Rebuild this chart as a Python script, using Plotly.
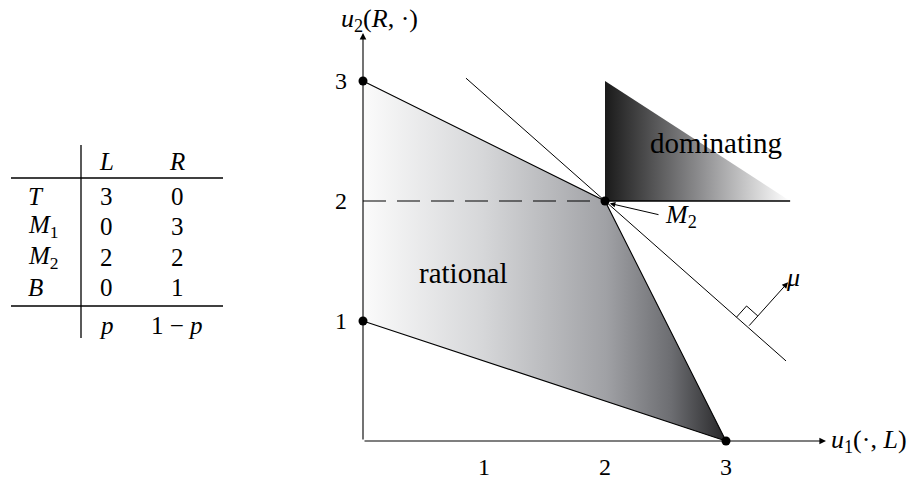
import numpy as np
import plotly.graph_objects as go

# ---- payoff table -------------------------------------------------------
strategies = ["T", "M1", "M2", "B"]
strategy_labels = ["<i>T</i>", "<i>M</i><sub>1</sub>", "<i>M</i><sub>2</sub>", "<i>B</i>"]
payoff_L = [3, 0, 2, 0]
payoff_R = [0, 3, 2, 1]
column_labels = ["<i>L</i>", "<i>R</i>"]
belief_labels = ["<i>p</i>", "1 − <i>p</i>"]

# ---- geometry of the payoff plane --------------------------------------
axis_ticks = [1, 2, 3]
rational_order = ["B", "M1", "M2", "T"]          # corners of the shaded region
dominating_u1 = [2, 2, 3.53]
dominating_u2 = [2, 3, 2]
support_slope = -0.891                           # line through M2, normal = mu
support_u1 = [0.851, 3.496]
foot_u1 = 3.18                                   # where mu starts on that line

W, H = 921, 479
X0, Y0, SX, SY = 363, 441, 121.0, 120.0          # origin pixel and unit sizes


def px_x(px):
    return (px - X0) / SX


def px_y(py):
    return (Y0 - py) / SY


pts = {s: (l, r) for s, l, r in zip(strategies, payoff_L, payoff_R)}
rat_u1 = [pts[s][0] for s in rational_order]
rat_u2 = [pts[s][1] for s in rational_order]
m2 = pts["M2"]

FONT = "Liberation Serif, DejaVu Serif, serif"
fig = go.Figure()

# rational region with horizontal gradient
fig.add_trace(go.Scatter(
    x=rat_u1 + [rat_u1[0]], y=rat_u2 + [rat_u2[0]], mode="lines",
    fill="toself", line=dict(width=0),
    fillgradient=dict(type="horizontal", start=0, stop=3,
                      colorscale=[[0, "#fbfbfb"], [0.33, "#d6d7d9"],
                                  [0.67, "#a0a1a5"], [0.85, "#6c6d71"],
                                  [1, "#262628"]]),
    hoverinfo="skip", showlegend=False))

# dominating region
fig.add_trace(go.Scatter(
    x=dominating_u1 + [dominating_u1[0]], y=dominating_u2 + [dominating_u2[0]],
    mode="lines", fill="toself", line=dict(width=0),
    fillgradient=dict(type="horizontal", start=dominating_u1[0], stop=max(dominating_u1),
                      colorscale=[[0, "#1a1a1a"], [0.5, "#8a8a8c"], [1, "#ffffff"]]),
    hoverinfo="skip", showlegend=False))

# edges of the rational region
edge = ["M1", "M2", "T", "B"]
fig.add_trace(go.Scatter(x=[pts[s][0] for s in edge], y=[pts[s][1] for s in edge],
                         mode="lines", line=dict(color="black", width=1.1),
                         hoverinfo="skip", showlegend=False))

# dashed guide to the u2 axis and solid edge of the dominating region
fig.add_trace(go.Scatter(x=[0, m2[0]], y=[m2[1], m2[1]], mode="lines",
                         line=dict(color="black", width=1.1, dash="23px,11px"),
                         hoverinfo="skip", showlegend=False))
fig.add_trace(go.Scatter(x=[m2[0], max(dominating_u1)], y=[m2[1], m2[1]], mode="lines",
                         line=dict(color="black", width=1.3),
                         hoverinfo="skip", showlegend=False))

# supporting line through M2
sup_y = [m2[1] + support_slope * (u - m2[0]) for u in support_u1]
fig.add_trace(go.Scatter(x=support_u1, y=sup_y, mode="lines",
                         line=dict(color="black", width=1.0),
                         hoverinfo="skip", showlegend=False))

# right-angle marker and mu arrow
d = np.array([-1.0, -support_slope]); d /= np.linalg.norm(d)
n = np.array([-support_slope, 1.0]); n /= np.linalg.norm(n)
F = np.array([foot_u1, m2[1] + support_slope * (foot_u1 - m2[0])])
s = 0.125
sq = [F + s * d, F + s * d + s * n, F + s * n]
fig.add_trace(go.Scatter(x=[p[0] for p in sq], y=[p[1] for p in sq], mode="lines",
                         line=dict(color="black", width=1.0),
                         hoverinfo="skip", showlegend=False))
tip = F + 0.5 * n
fig.add_annotation(x=tip[0], y=tip[1], ax=F[0], ay=F[1], xref="x", yref="y",
                   axref="x", ayref="y", text="", showarrow=True,
                   arrowhead=2, arrowsize=1.2, arrowwidth=1.0, arrowcolor="black")
fig.add_annotation(x=px_x(793), y=px_y(277), text="<i>μ</i>", showarrow=False,
                   font=dict(family=FONT, size=26, color="black"))

# axes
fig.add_annotation(x=px_x(826), y=0, ax=0, ay=0, xref="x", yref="y",
                   axref="x", ayref="y", text="", showarrow=True,
                   arrowhead=2, arrowsize=1.2, arrowwidth=1.1, arrowcolor="black")
fig.add_annotation(x=0, y=px_y(33), ax=0, ay=0, xref="x", yref="y",
                   axref="x", ayref="y", text="", showarrow=True,
                   arrowhead=2, arrowsize=1.2, arrowwidth=1.1, arrowcolor="black")
fig.add_annotation(x=px_x(829), y=0, text="<i>u</i><sub>1</sub>(·, <i>L</i>)",
                   xanchor="left", yanchor="middle", showarrow=False,
                   font=dict(family=FONT, size=26, color="black"))
fig.add_annotation(x=px_x(379), y=px_y(20), text="<i>u</i><sub>2</sub>(<i>R</i>, ·)",
                   xanchor="center", yanchor="middle", showarrow=False,
                   font=dict(family=FONT, size=26, color="black"))

for t in axis_ticks:
    fig.add_annotation(x=t, y=px_y(467), text=str(t), showarrow=False,
                       xanchor="center", yanchor="middle",
                       font=dict(family=FONT, size=24, color="black"))
    fig.add_annotation(x=px_x(341), y=t, text=str(t), showarrow=False,
                       xanchor="center", yanchor="middle",
                       font=dict(family=FONT, size=24, color="black"))

# payoff points
fig.add_trace(go.Scatter(x=payoff_L, y=payoff_R, mode="markers",
                         marker=dict(color="black", size=9),
                         hoverinfo="skip", showlegend=False))

# region labels
fig.add_annotation(x=px_x(463), y=px_y(273), text="rational", showarrow=False,
                   xanchor="center", yanchor="middle",
                   font=dict(family=FONT, size=29, color="black"))
fig.add_annotation(x=px_x(716), y=px_y(143), text="dominating", showarrow=False,
                   xanchor="center", yanchor="middle",
                   font=dict(family=FONT, size=29, color="black"))

# M2 pointer
fig.add_annotation(x=m2[0] + 0.04, y=m2[1] - 0.02, ax=px_x(660), ay=px_y(215),
                   xref="x", yref="y", axref="x", ayref="y", text="",
                   showarrow=True, arrowhead=2, arrowsize=1.1, arrowwidth=1.0,
                   arrowcolor="black")
fig.add_annotation(x=px_x(663), y=px_y(216), text="<i>M</i><sub>2</sub>",
                   xanchor="left", yanchor="middle", showarrow=False,
                   font=dict(family=FONT, size=26, color="black"))

# ---- table (drawn in paper coordinates) --------------------------------
def pxp(px):
    return px / W


def pyp(py):
    return 1 - py / H


shapes = [
    dict(type="line", xref="paper", yref="paper", x0=pxp(81), x1=pxp(81),
         y0=pyp(145), y1=pyp(338), line=dict(color="black", width=1.3)),
    dict(type="line", xref="paper", yref="paper", x0=pxp(11), x1=pxp(223),
         y0=pyp(178), y1=pyp(178), line=dict(color="black", width=1.4)),
    dict(type="line", xref="paper", yref="paper", x0=pxp(11), x1=pxp(223),
         y0=pyp(306), y1=pyp(306), line=dict(color="black", width=1.4)),
]
fig.update_layout(shapes=shapes)

col_x = [106, 177]
row_y = [196, 226.5, 257, 287]
TFONT = dict(family=FONT, size=25, color="black")


def cell(px, py, text, xanchor="center"):
    fig.add_annotation(x=pxp(px), y=pyp(py), xref="paper", yref="paper",
                       text=text, xanchor=xanchor, yanchor="middle",
                       showarrow=False, font=TFONT)


for cx, lab in zip(col_x, column_labels):
    cell(cx, 162, lab)
for cx, lab in zip(col_x, belief_labels):
    cell(cx, 325, lab)
for ry, lab, l, r in zip(row_y, strategy_labels, payoff_L, payoff_R):
    cell(26, ry, lab, xanchor="left")
    cell(col_x[0], ry, str(l))
    cell(col_x[1], ry, str(r))

fig.update_layout(
    width=W, height=H, margin=dict(l=0, r=0, t=0, b=0),
    paper_bgcolor="white", plot_bgcolor="white",
    xaxis=dict(range=[px_x(0), px_x(W)], visible=False, fixedrange=True),
    yaxis=dict(range=[px_y(H), px_y(0)], visible=False, fixedrange=True),
    showlegend=False,
)

fig.write_html("out.html")
